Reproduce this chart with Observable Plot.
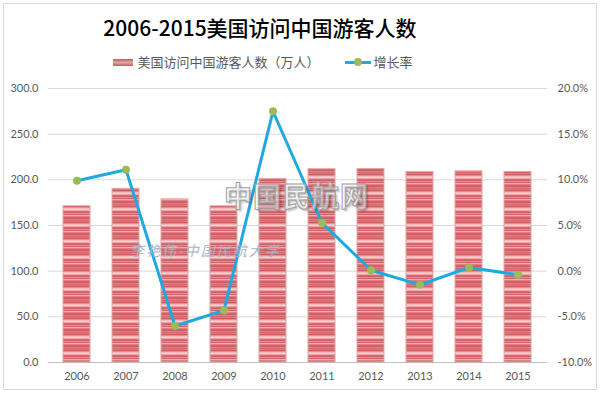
<!DOCTYPE html>
<html><head><meta charset="utf-8">
<script src="https://cdn.jsdelivr.net/npm/d3@7"></script>
<script src="https://cdn.jsdelivr.net/npm/@observablehq/plot@0.6"></script>
<style>
body{margin:0;background:#fff;}
#wrap{position:relative;width:600px;height:394px;overflow:hidden;font-family:"Noto Sans CJK SC",sans-serif;background:#fff;}
#frame{position:absolute;left:3px;top:3px;width:594px;height:387px;border:1px solid #d9d9d9;box-sizing:border-box;pointer-events:none;}
#title{position:absolute;left:0;top:12px;width:520px;text-align:center;font-size:21px;font-weight:500;line-height:30px;color:#000;}
#legend{position:absolute;left:0;top:52px;width:526px;display:flex;justify-content:center;align-items:center;font-size:13px;color:#595959;line-height:20px;}
.sw-bar{width:20px;height:7px;background:linear-gradient(#c9585d,#e7a2a4 50%,#c9585d);margin-right:4px;}
.sw-line{position:relative;width:26px;height:9px;margin-left:25px;margin-right:3px;}
.sw-line:before{content:"";position:absolute;left:0;top:3px;width:26px;height:3px;background:#1fa9e1;}
.sw-line:after{content:"";position:absolute;left:9px;top:0.5px;width:8px;height:8px;border-radius:50%;background:#9bbb59;}
#chart{position:absolute;left:0;top:76px;}
.wm1{position:absolute;left:224px;top:178px;font-size:28px;font-weight:bold;letter-spacing:1px;color:rgba(255,255,255,0.55);-webkit-text-stroke:1px #a0a0a0;text-shadow:2px 2px 2px rgba(0,0,0,0.25);line-height:34px;}
.wm2{position:absolute;left:130px;top:240px;font-size:14px;letter-spacing:2px;color:#aab1c6;font-style:italic;line-height:20px;}
</style></head>
<body>
<div id="wrap">
  <div id="title">2006-2015美国访问中国游客人数</div>
  <div id="legend"><span class="sw-bar"></span><span>美国访问中国游客人数（万人）</span><span class="sw-line"></span><span>增长率</span></div>
  <div id="chart"></div>
  <div class="wm1">中国民航网</div>
  <div class="wm2">李艳伟-中国民航大学</div>
  <div id="frame"></div>
</div>
<script>
const years = ["2006","2007","2008","2009","2010","2011","2012","2013","2014","2015"];
const visitors = [171.0, 190.1, 178.6, 171.0, 201.0, 211.6, 211.8, 208.5, 209.3, 208.6];
const growth = [9.9, 11.1, -6.0, -4.3, 17.5, 5.3, 0.1, -1.5, 0.4, -0.4];
const leftTicks = [0, 50, 100, 150, 200, 250, 300];
const rightTicks = [-10, -5, 0, 5, 10, 15, 20];

// right axis (-10%..20%) mapped onto left axis (0..300)
const toLeft = g => (g + 10) * 10;
const data = years.map((y, i) => ({year: y, v: visitors[i], g: growth[i], gy: toLeft(growth[i])}));

const chart = Plot.plot({
  width: 600, height: 314,
  marginTop: 12, marginBottom: 28, marginLeft: 48, marginRight: 53,
  style: {fontFamily: "Lato, 'Open Sans', sans-serif", fontSize: "11px", color: "#595959", background: "transparent", overflow: "visible"},
  x: {domain: years, paddingInner: 0.44, paddingOuter: 0.22, label: null},
  y: {domain: [0, 300], label: null},
  marks: [
    Plot.gridY(leftTicks, {stroke: "#d9d9d9", strokeOpacity: 1}),
    Plot.barY(data, {x: "year", y: "v", fill: "url(#stripes)", stroke: "#e6a3a3", strokeWidth: 1}),
    Plot.ruleY([0], {stroke: "#bfbfbf", strokeWidth: 1}),
    Plot.line(data, {x: "year", y: "gy", stroke: "#1fa9e1", strokeWidth: 3, curve: "linear"}),
    Plot.dot(data, {x: "year", y: "gy", r: 4, fill: "#9bbb59", stroke: null}),
    Plot.axisY(leftTicks, {anchor: "left", tickSize: 0, tickPadding: 10, tickFormat: d => d.toFixed(1), label: null}),
    Plot.axisY(rightTicks.map(toLeft), {anchor: "right", tickSize: 0, tickPadding: 10, tickFormat: d => (d / 10 - 10).toFixed(1) + "%", label: null}),
    Plot.axisX({tickSize: 0, tickPadding: 10, label: null})
  ]
});

// striped fill pattern for bars
const stripeColors = ["#d16468","#dc7e82","#c85a60","#e08e92","#efbcbc","#f6d2d2","#e8a2a4","#d67075","#cb5e64","#e29296","#cf6267","#ecb2b2","#dc8084","#d1666b","#c95c61","#de888c"];
const defs = d3.select(chart).insert("defs", ":first-child");
const pat = defs.append("pattern").attr("id", "stripes").attr("patternUnits", "userSpaceOnUse")
  .attr("width", 4).attr("height", stripeColors.length);
stripeColors.forEach((c, i) => pat.append("rect").attr("x", 0).attr("y", i).attr("width", 4).attr("height", 1).attr("fill", c));

document.getElementById("chart").appendChild(chart);
</script>
</body></html>
